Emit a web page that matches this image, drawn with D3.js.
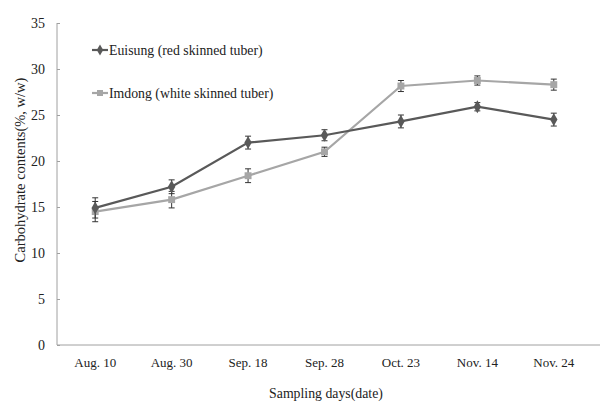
<!DOCTYPE html>
<html><head><meta charset="utf-8">
<script src="https://cdn.jsdelivr.net/npm/d3@7"></script>
<style>body{margin:0;background:#fff}svg{display:block}</style>
</head><body><svg id="c" width="603" height="403"></svg>
<script>
const categories = ["Aug. 10","Aug. 30","Sep. 18","Sep. 28","Oct. 23","Nov. 14","Nov. 24"];
const euisung = [14.9,17.2,22.0,22.8,24.3,25.9,24.5];
const euisungErr = [1.1,0.75,0.7,0.6,0.7,0.45,0.7];
const imdong = [14.5,15.8,18.4,21.0,28.15,28.75,28.3];
const imdongErr = [1.1,0.9,0.75,0.5,0.6,0.5,0.6];
const yTicks = [0,5,10,15,20,25,30,35];
const seriesNames = ["Euisung (red skinned tuber)","Imdong (white skinned tuber)"];
const colors = ["#595959","#a6a6a6"];
const FONT = "'Liberation Serif', 'DejaVu Serif', serif";

const svg = d3.select("#c");
const x = d3.scaleBand().domain(categories).range([57, 592]);
const y = d3.scaleLinear().domain([0,35]).range([345, 23]);

// y axis
const ya = svg.append("g").attr("transform","translate(57,0)")
  .call(d3.axisLeft(y).tickValues(yTicks).tickSize(-3).tickPadding(12));
ya.attr("font-family",FONT);
ya.select(".domain").attr("stroke","#a0a0a0").attr("d","M0,"+y(35)+"V"+y(0));
ya.selectAll(".tick line").attr("stroke","#a0a0a0");
ya.selectAll("text").attr("font-size",14).attr("fill","#222");

// x axis
const xa = svg.append("g").attr("transform","translate(0,345)")
  .call(d3.axisBottom(x).tickSize(0).tickPadding(13));
xa.attr("font-family",FONT);
xa.select(".domain").attr("stroke","#a0a0a0").attr("d","M57,0H600");
xa.selectAll("text").attr("font-size",13).attr("fill","#222");

// titles
svg.append("text").attr("x",326).attr("y",398).attr("text-anchor","middle").attr("font-family",FONT).attr("font-size",13.8).attr("fill","#222").text("Sampling days(date)");
svg.append("text").attr("transform","translate(25,170) rotate(-90)").attr("text-anchor","middle").attr("font-family",FONT).attr("font-size",14.5).attr("fill","#222").text("Carbohydrate contents(%, w/w)");

const cx = c => x(c) + x.bandwidth()/2;
const line = d3.line().x((d,i)=>cx(categories[i])).y(d=>y(d));

function drawSeries(vals, errs, color, shape){
  const g = svg.append("g");
  g.append("path").datum(vals).attr("d",line).attr("fill","none").attr("stroke",color).attr("stroke-width",2.2);
  vals.forEach((v,i)=>{
    const px = cx(categories[i]);
    const eb = g.append("g").attr("stroke","#333").attr("stroke-width",1);
    eb.append("line").attr("x1",px).attr("x2",px).attr("y1",y(v+errs[i])).attr("y2",y(v-errs[i]));
    eb.append("line").attr("x1",px-3).attr("x2",px+3).attr("y1",y(v+errs[i])).attr("y2",y(v+errs[i]));
    eb.append("line").attr("x1",px-3).attr("x2",px+3).attr("y1",y(v-errs[i])).attr("y2",y(v-errs[i]));
  });
  g.selectAll(".m").data(vals).join("path")
    .attr("transform",(d,i)=>`translate(${cx(categories[i])},${y(d)})`)
    .attr("d", d3.symbol().type(shape).size(48))
    .attr("fill",color);
}
drawSeries(imdong, imdongErr, colors[1], d3.symbolSquare);
drawSeries(euisung, euisungErr, colors[0], d3.symbolDiamond);

// legend
const legY = [50, 93];
[[d3.symbolDiamond,0],[d3.symbolSquare,1]].forEach(([shape,i])=>{
  const lg = svg.append("g");
  lg.append("line").attr("x1",92).attr("x2",108).attr("y1",legY[i]).attr("y2",legY[i]).attr("stroke",colors[i]).attr("stroke-width",2.2);
  lg.append("path").attr("transform",`translate(100,${legY[i]})`).attr("d",d3.symbol().type(shape).size(36)).attr("fill",colors[i]);
  lg.append("text").attr("x",109).attr("y",legY[i]+5).attr("font-family",FONT).attr("font-size",13.8).attr("fill","#222").text(seriesNames[i]);
});
</script></body></html>
